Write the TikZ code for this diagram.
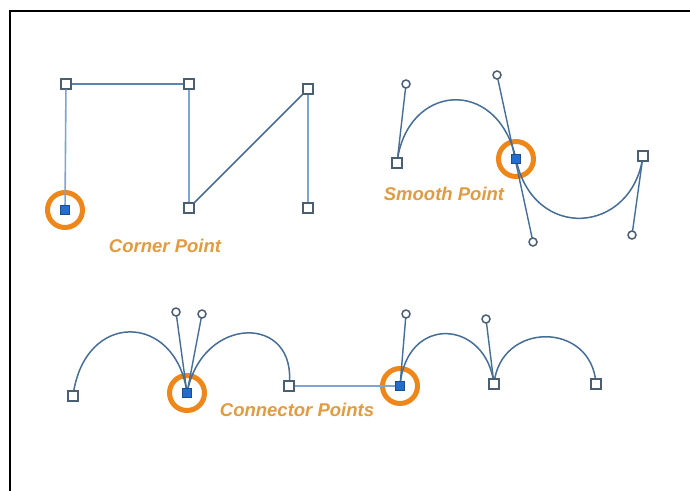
\documentclass[tikz,border=0pt]{standalone}
\usepackage{fontspec}
\setmainfont{Liberation Sans}
\begin{document}
\begin{tikzpicture}[x=1pt,y=-1pt,
  line/.style={draw=lineblue,line width=1.6pt},
  curve/.style={draw=curvecol,line width=1.5pt},
  handle/.style={draw=curvecol,line width=1.4pt},
  sq/.style={draw=ptgray,fill=white,line width=1.6pt,minimum size=9.5pt,inner sep=0pt,rectangle},
  selsq/.style={draw=selblue!70!black,fill=selblue,line width=0.8pt,minimum size=9.5pt,inner sep=0pt,rectangle},
  hc/.style={draw=ptgray,fill=white,line width=1.5pt,circle,minimum size=8pt,inner sep=0pt},
  ring/.style={draw=ringor,line width=5pt,circle,minimum size=35pt,inner sep=0pt},
  lbl/.style={text=txtor,font=\bfseries\itshape\fontsize{18.5}{22}\selectfont,inner sep=0pt}]
\definecolor{lineblue}{RGB}{125,165,210}
\definecolor{curvecol}{RGB}{70,110,150}
\definecolor{ptgray}{RGB}{75,95,115}
\definecolor{selblue}{RGB}{35,110,205}
\definecolor{ringor}{RGB}{238,135,25}
\definecolor{txtor}{RGB}{225,155,65}
\useasboundingbox (0,0) rectangle (690,490);
\fill[white] (0,0) rectangle (690,490);
\draw[line width=2pt] (10,494) -- (10,11) -- (694,11);

% Corner point group
\node[ring] (r1) at (65,210) {};
\node[selsq] (a1) at (65,210) {};
\node[sq] (a2) at (66,84) {};
\node[sq] (a3) at (189,84) {};
\node[sq] (a4) at (189,208) {};
\node[sq] (a5) at (308,89) {};
\node[sq] (a6) at (308,208) {};
\draw[line] (a1) -- (a2);
\draw[line,draw=curvecol!60!lineblue] (a2) -- (a3);
\draw[line] (a3) -- (a4);
\draw[curve] (a4) -- (a5);
\draw[line] (a5) -- (a6);
\node[lbl] (t1) at (165,246) {Corner Point};

% Smooth point group
\node[ring] (r2) at (516,159) {};
\coordinate (b1) at (397,163);
\coordinate (b2) at (516,159);
\coordinate (b3) at (643,156);
\coordinate (h1) at (406,84);
\coordinate (h2) at (497,75);
\coordinate (h3) at (533,242);
\coordinate (h4) at (632,235);
\draw[curve] (b1) .. controls (h1) and (h2) .. (b2) .. controls (h3) and (h4) .. (b3);
\draw[handle] (b1) -- (h1);
\draw[handle] (h2) -- (h3);
\draw[handle] (b3) -- (h4);
\node[sq] (bb1) at (b1) {};
\node[selsq] (bb2) at (b2) {};
\node[sq] (bb3) at (b3) {};
\node[hc] (hh1) at (h1) {};
\node[hc] (hh2) at (h2) {};
\node[hc] (hh3) at (h3) {};
\node[hc] (hh4) at (h4) {};
\node[lbl] (t2) at (444,194) {Smooth Point};

% Connector points group
\node[ring] (r3) at (187,393) {};
\node[ring] (r4) at (400,386) {};
\coordinate (c1) at (73,396);
\coordinate (c2) at (187,393);
\coordinate (c3) at (289,386);
\coordinate (c4) at (400,386);
\coordinate (c5) at (494,384);
\coordinate (c6) at (596,384);
\coordinate (k1) at (176,312);
\coordinate (k2) at (202,314);
\coordinate (k3) at (406,314);
\coordinate (k4) at (486,319);
\draw[curve] (c1) .. controls (84,310) and (k1) .. (c2);
\draw[curve] (c2) .. controls (k2) and (298,314) .. (c3);
\draw[curve] (c4) .. controls (k3) and (k4) .. (c5);
\draw[curve] (c5) .. controls (500,321) and (592,321) .. (c6);
\draw[line] (c3) -- (c4);
\draw[handle] (c2) -- (k1);
\draw[handle] (c2) -- (k2);
\draw[handle] (c4) -- (k3);
\draw[handle] (c5) -- (k4);
\node[sq] (cc1) at (c1) {};
\node[selsq] (cc2) at (c2) {};
\node[sq] (cc3) at (c3) {};
\node[selsq] (cc4) at (c4) {};
\node[sq] (cc5) at (c5) {};
\node[sq] (cc6) at (c6) {};
\node[hc] (kk1) at (k1) {};
\node[hc] (kk2) at (k2) {};
\node[hc] (kk3) at (k3) {};
\node[hc] (kk4) at (k4) {};
\node[lbl] (t3) at (297,410) {Connector Points};
\end{tikzpicture}
\end{document}
